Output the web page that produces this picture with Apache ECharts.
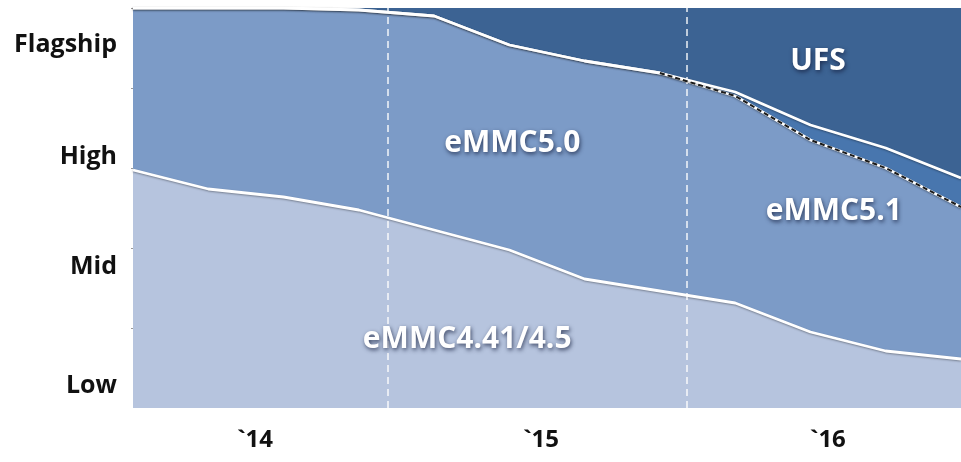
<!DOCTYPE html>
<html>
<head>
<meta charset="utf-8">
<script src="https://cdn.jsdelivr.net/npm/echarts@6/dist/echarts.min.js"></script>
<style>
  html, body { margin: 0; padding: 0; background: #ffffff; }
  #chart { width: 961px; height: 462px; }
</style>
</head>
<body>
<div id="chart"></div>
<script>
// Quarterly share of storage interfaces by device tier, Q1 2014 – Q4 2016 (stacked to 100)
const quarters = ['Q1 14', 'Q2 14', 'Q3 14', 'Q4 14', 'Q1 15', 'Q2 15', 'Q3 15', 'Q4 15', 'Q1 16', 'Q2 16', 'Q3 16', 'Q4 16'];
const emmc441 = [59.5, 54.75, 52.75, 49.5, 44.5, 39.5, 32.25, 29.25, 26.25, 19, 14.25, 12.25];
const emmc50  = [40.5, 45.25, 47.25, 50, 53.5, 51.25, 54.5, 54.5, 51.75, 48, 45.75, 38];
const emmc51  = [0, 0, 0, 0, 0, 0, 0, 0, 1, 3.75, 5, 7.25];
const ufs     = [0, 0, 0, 0.5, 2, 9.25, 13.25, 16.25, 21, 29.25, 35, 42.5];

// Tier labels along the vertical axis and the value each one sits at
const tierLabels = ['Low', 'Mid', 'High', 'Flagship'];
const tierValues = [5.5, 35.25, 62.9, 90.75];

// Year labels along the horizontal axis and the quarter position each one sits at
const yearLabels = ['`14', '`15', '`16'];
const yearValues = [1.62, 5.42, 9.23];
// Year dividers
const yearBreaks = [3.39, 7.35];

// Area names and where each is written (quarter position, share)
const areaNames = ['eMMC4.41/4.5', 'eMMC5.0', 'eMMC5.1', 'UFS'];
const areaNamePos = [[4.44, 17.25], [5.04, 66.25], [9.31, 49.25], [9.1, 86.75]];
const areaColors = ['#b6c4de', '#7c9bc7', '#4876ae', '#3c6393'];
const layers = [emmc441, emmc50, emmc51, ufs];

// Top edge of eMMC5.0 once eMMC5.1 appears (dashed boundary), on the quarter-position axis
const emmc50Top = quarters.map((q, i) => [i, i >= 7 ? emmc441[i] + emmc50[i] : null]);

const labelFont = {
  color: '#ffffff',
  fontFamily: 'Open Sans',
  fontWeight: 'bold',
  fontSize: 30,
  textShadowColor: 'rgba(20,30,60,0.75)',
  textShadowBlur: 4,
  textShadowOffsetX: 1,
  textShadowOffsetY: 2
};

const whiteLine = {
  color: '#ffffff',
  width: 2.8,
  shadowColor: 'rgba(0,0,0,0.35)',
  shadowBlur: 2,
  shadowOffsetY: 1
};

// Filled bands (stacked), drawn first
const areaSeries = layers.map((arr, i) => ({
  name: areaNames[i],
  type: 'line',
  stack: 'share',
  data: arr,
  showSymbol: false,
  lineStyle: { width: 0 },
  areaStyle: { color: areaColors[i], opacity: 1 },
  z: 1
}));

// Boundary lines between bands (same stacking, no fill), drawn on top
const edgeSeries = layers.slice(0, 3).map((arr, i) => ({
  name: areaNames[i] + ' edge',
  type: 'line',
  stack: 'edges',
  data: arr,
  showSymbol: false,
  lineStyle: whiteLine,
  z: 3
}));

const chart = echarts.init(document.getElementById('chart'), null, { renderer: 'canvas' });

chart.setOption({
  animation: false,
  backgroundColor: '#ffffff',
  grid: { left: 133, right: 0, top: 8, bottom: 54 },
  xAxis: [
    {
      type: 'category',
      data: quarters,
      boundaryGap: false,
      axisLine: { show: false },
      axisTick: { show: false },
      axisLabel: { show: false },
      splitLine: { show: false }
    },
    {
      // quarter position axis used for year labels, dividers and area names
      type: 'value',
      position: 'bottom',
      min: 0,
      max: quarters.length - 1,
      axisLine: { show: false },
      axisTick: { show: false },
      splitLine: { show: false },
      axisLabel: {
        customValues: yearValues,
        formatter: v => yearLabels[yearValues.indexOf(v)],
        color: '#111111',
        fontFamily: 'Open Sans',
        fontWeight: 'bold',
        fontSize: 24,
        margin: 20
      }
    }
  ],
  yAxis: {
    type: 'value',
    min: 0,
    max: 100,
    interval: 20,
    axisLine: { show: false },
    splitLine: { show: false },
    axisTick: {
      show: true,
      length: 2,
      customValues: [20, 40, 60, 80, 100],
      lineStyle: { color: '#9a9a9a', width: 1 }
    },
    axisLabel: {
      customValues: tierValues,
      formatter: v => tierLabels[tierValues.indexOf(v)],
      color: '#111111',
      fontFamily: 'Open Sans',
      fontWeight: 'bold',
      fontSize: 25,
      margin: 16
    }
  },
  series: areaSeries.concat(edgeSeries, [
    {
      name: 'eMMC5.0 dashed edge',
      type: 'line',
      xAxisIndex: 1,
      data: emmc50Top,
      showSymbol: false,
      lineStyle: { color: '#1a1a1a', width: 2, type: [5, 3] },
      markLine: {
        silent: true,
        symbol: 'none',
        label: { show: false },
        lineStyle: { color: '#ffffff', type: [7, 5], width: 1.5, opacity: 0.9 },
        data: yearBreaks.map(v => ({ xAxis: v }))
      },
      markPoint: {
        symbol: 'circle',
        symbolSize: 0,
        silent: true,
        label: Object.assign({ show: true, position: 'inside', formatter: p => p.name }, labelFont),
        data: areaNames.map((n, i) => ({ name: n, coord: areaNamePos[i] }))
      },
      z: 6
    }
  ])
});
</script>
</body>
</html>
